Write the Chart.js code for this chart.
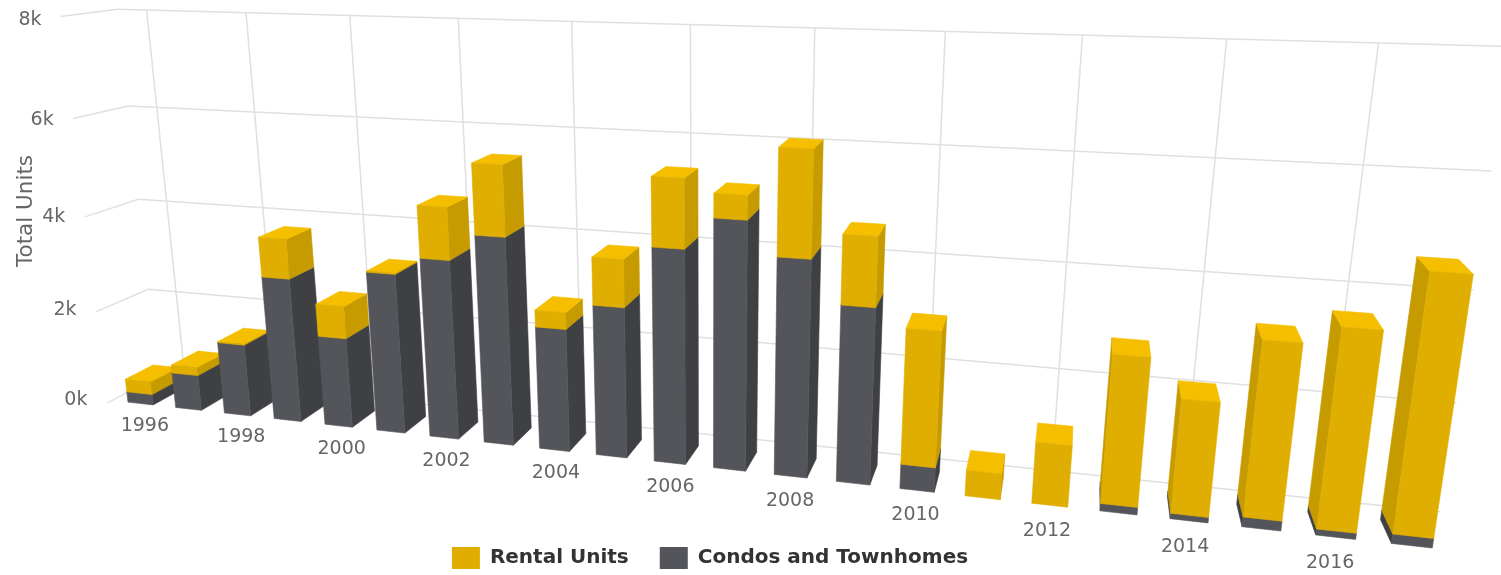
<!DOCTYPE html>
<html><head><meta charset="utf-8">
<style>html,body{margin:0;padding:0;background:#fff}canvas{display:block}</style>
<script src="https://cdn.jsdelivr.net/npm/chart.js@4/dist/chart.umd.js"></script></head>
<body><canvas id="c" width="1501" height="575"></canvas>
<script>
const years=['1996','1997','1998','1999','2000','2001','2002','2003','2004','2005','2006','2007','2008','2009','2010','2011','2012','2013','2014','2015','2016','2017'];
const condos=[230,760,1520,2990,1860,3260,3620,4150,2450,2970,4160,4770,4140,3350,470,0,0,140,100,180,110,170];
const rental=[280,170,20,810,660,20,1030,1370,330,920,1300,450,1960,1280,2550,490,1150,2720,2080,3140,3530,4480];
const yTickLabels=['0k','2k','4k','6k','8k'];
const DEPTH_BACK=1, DEPTH_BAR=0.6, DEPTH_SIDE=-0.1, WALL_LEFT=-.6, WALL_RIGHT=21.65;
// View calibration of the 3D camera: [category, value, depth, screen x, screen y]
const viewCalibration=[
[0,8000,1,149,10],[2,8000,1,247,12],[4,8000,1,351,15],[16,8000,1,1082,34],[18,8000,1,1225,38],[20,8000,1,1377,42],[-.6,8000,1,115,7],
[0,6000,1,159,108],[2,6000,1,257,113],[4,6000,1,358,117],[16,6000,1,1073,152],[18,6000,1,1214,159],[20,6000,1,1361,165],[21.65,6000,1,1494,172],[-.6,6000,1,125,107],
[0,4000,1,169,200],[2,4000,1,265,207],[4,4000,1,365,213],[8,4000,1,577,228],[18,4000,1,1202,270],[20,4000,1,1346,281],[21.65,4000,1,1477,289],[-.6,4000,1,136,198],
[0,2000,1,178,292],[8,2000,1,583,327],[16,2000,1,1057,368],[18,2000,1,1192,382],[21.65,2000,1,1458,402],[-.6,2000,1,146,289],
[6,0,1,477,408],[21.65,0,1,1442,509],
[-.6,8000,-.1,59,15],[-.6,6000,-.1,73,119],[-.6,4000,-.1,85,215],[-.6,2000,-.1,97,310],[-.6,0,-.1,108,400],
[.735,0,0,176,408],[1.265,0,0,202,411],[2.735,0,0,275,419],[3.265,0,0,302,420],[7.735,0,0,541,448],[8.265,0,0,570,452],
[10.735,0,0,714,468],[11.265,0,0,747,472],[13.735,0,0,900,489],[14.265,0,0,933,493],[14.735,0,0,965,496],[15.265,0,0,999,500],
[15.735,0,0,1031,504],[16.265,0,0,1066,507],[16.735,0,0,1099,511],[17.265,0,0,1136,515],[18.735,0,0,1243,527],[19.265,0,0,1281,531],
[19.735,0,0,1316,535],[20.265,0,0,1356,539],[20.735,0,0,1392,543],[21.265,0,0,1433,547],
[1.265,0,.6,223,398],[3.265,0,.6,322,407],[8.265,0,.6,585,435],[18.735,0,.6,1237,500],[19.735,0,.6,1309,508],[20.735,0,.6,1382,513]
];
const topFaces=[
[3,3800,258,237,287,240,283,228,308,229],
[8,2780,536,310,567,313,552,298,581,300],
[14,3020,907,328,943,332,913,315,945,318],
[15,490,967,470,1001,473,971,453,1003,455],
[16,1150,1037,442,1070,445,1037,425,1072,427],
[17,2860,1112,354,1149,358,1111,340,1148,343],
[19,3320,1263,340,1303,345,1257,326,1296,329],
[20,3640,1342,327,1383,329,1334,312,1373,314],
[21,4650,1430,271,1473,272,1419,257,1460,259]];
topFaces.forEach(([c,v,a,b,d,e,f,g,h,i])=>{viewCalibration.push([c-.265,v,0,a,b],[c+.265,v,0,d,e],[c-.265,v,.6,f,g],[c+.265,v,.6,h,i]);});
function fit(pts){
  const n=11,A=Array.from({length:n},()=>new Array(n+1).fill(0));
  const add=(r,b)=>{for(let i=0;i<n;i++){for(let j=0;j<n;j++)A[i][j]+=r[i]*r[j];A[i][n]+=r[i]*b;}};
  for(const [c,v,w,sx,sy] of pts){const X=c/10,Y=v/4000,Z=w,u=sx/1000,t=sy/1000;
    add([X,Y,Z,1,0,0,0,0,-u*X,-u*Y,-u*Z],u);add([0,0,0,0,X,Y,Z,1,-t*X,-t*Y,-t*Z],t);}
  for(let i=0;i<n;i++){let m=i;for(let k=i+1;k<n;k++)if(Math.abs(A[k][i])>Math.abs(A[m][i]))m=k;[A[i],A[m]]=[A[m],A[i]];
    for(let k=0;k<n;k++){if(k===i)continue;const f=A[k][i]/A[i][i];for(let j=i;j<=n;j++)A[k][j]-=f*A[i][j];}}
  return A.map((r,i)=>r[n]/r[i]);
}
const P=fit(viewCalibration);
function proj(c,v,w){const X=c/10,Y=v/4000,d=P[8]*X+P[9]*Y+P[10]*w+1;
  return [1000*(P[0]*X+P[1]*Y+P[2]*w+P[3])/d,1000*(P[4]*X+P[5]*Y+P[6]*w+P[7])/d];}
const shade=(rgb,f)=>'rgb('+rgb.map(x=>Math.max(0,Math.min(255,Math.round(x*f)))).join(',')+')';
const COLORS=[[84,85,90],[223,174,0]],SIDE=[.75,.89],TOP=[1.1,1.1];
const plugin3d={id:'view3d',beforeDatasetsDraw(chart){
  const ctx=chart.ctx,xs=chart.scales.x,ys=chart.scales.y;
  const x0=xs.getPixelForValue(0),x1=xs.getPixelForValue(1);
  const catOf=p=>(p-x0)/(x1-x0);
  ctx.save();ctx.strokeStyle='#e0e0e0';ctx.lineWidth=1.5;
  const line=(a,b)=>{ctx.beginPath();ctx.moveTo(a[0],a[1]);ctx.lineTo(b[0],b[1]);ctx.stroke();};
  ys.ticks.forEach(t=>{line(proj(WALL_LEFT,t.value,DEPTH_SIDE),proj(WALL_LEFT,t.value,DEPTH_BACK));line(proj(WALL_LEFT,t.value,DEPTH_BACK),proj(WALL_RIGHT,t.value,DEPTH_BACK));});
  xs.ticks.forEach(t=>{if(t.label)line(proj(t.value,0,DEPTH_BACK),proj(t.value,ys.max,DEPTH_BACK));});
  ctx.fillStyle='#666';ctx.font='19px "DejaVu Sans"';ctx.textBaseline='middle';ctx.textAlign='right';
  ys.ticks.forEach((t,i)=>{const p=proj(WALL_LEFT,t.value*.985,DEPTH_SIDE);ctx.fillText(yTickLabels[i],p[0]-20,p[1]-3);});
  ctx.textAlign='center';
  xs.ticks.forEach(t=>{if(!t.label)return;const p=proj(t.value,-500,.06);ctx.fillText(t.label,p[0]-1,p[1]+1.5);});
  ctx.save();ctx.translate(26,211);ctx.rotate(-Math.PI/2);ctx.font='21.5px "DejaVu Sans"';ctx.fillText('Total Units',0,0);ctx.restore();
  const order=years.map((_,i)=>i).sort((a,b)=>Math.abs(b-16)-Math.abs(a-16));
  order.forEach(i=>{chart.data.datasets.forEach((ds,di)=>{
    const el=chart.getDatasetMeta(di).data[i];if(!el||ds.data[i]===0)return;
    const hw=el.width/2,cl=catOf(el.x-hw),cr=catOf(el.x+hw),vt=ys.getValueForPixel(el.y),vb=ys.getValueForPixel(el.base);
    const c=COLORS[di],w0=0,w1=DEPTH_BAR;
    const V=(a,b,d)=>proj(a?cr:cl,b?vt:vb,d?w1:w0);
    const faces=[
      [[V(0,0,1),V(0,1,1),V(0,1,0),V(0,0,0)],SIDE[di]],
      [[V(1,0,0),V(1,1,0),V(1,1,1),V(1,0,1)],SIDE[di]],
      [[V(0,1,0),V(0,1,1),V(1,1,1),V(1,1,0)],TOP[di]],
      [[V(0,0,0),V(0,1,0),V(1,1,0),V(1,0,0)],1]];
    faces.forEach(([q,f])=>{
      let a=0;q.forEach((p,k)=>{const n=q[(k+1)%4];a+=p[0]*n[1]-n[0]*p[1];});
      if(a<0)return;
      ctx.beginPath();q.forEach((p,k)=>k?ctx.lineTo(p[0],p[1]):ctx.moveTo(p[0],p[1]));ctx.closePath();
      ctx.fillStyle=shade(c,f);ctx.strokeStyle=ctx.fillStyle;ctx.lineWidth=.6;ctx.fill();ctx.stroke();
    });
  });});
  ctx.restore();
  return false;
}};
new Chart(document.getElementById('c'),{type:'bar',
 data:{labels:years,datasets:[
  {label:'Condos and Townhomes',data:condos,backgroundColor:'#54555a',borderWidth:0},
  {label:'Rental Units',data:rental,backgroundColor:'#dfae00',borderWidth:0}]},
 plugins:[plugin3d],
 options:{responsive:false,animation:false,layout:{padding:{right:81,bottom:-4}},
  datasets:{bar:{categoryPercentage:1,barPercentage:.53}},
  scales:{
   x:{display:false,stacked:true,ticks:{autoSkip:false,callback(v,i){return i%2===0?this.getLabelForValue(v):'';}}},
   y:{display:false,stacked:true,min:0,max:8000,ticks:{stepSize:2000}}},
  plugins:{tooltip:{enabled:false},title:{display:false},
   legend:{position:'bottom',reverse:true,labels:{boxWidth:28,boxHeight:22,padding:31,color:'#333',font:{family:'"DejaVu Sans"',size:20,weight:'bold'}}}}}});
</script></body></html>
